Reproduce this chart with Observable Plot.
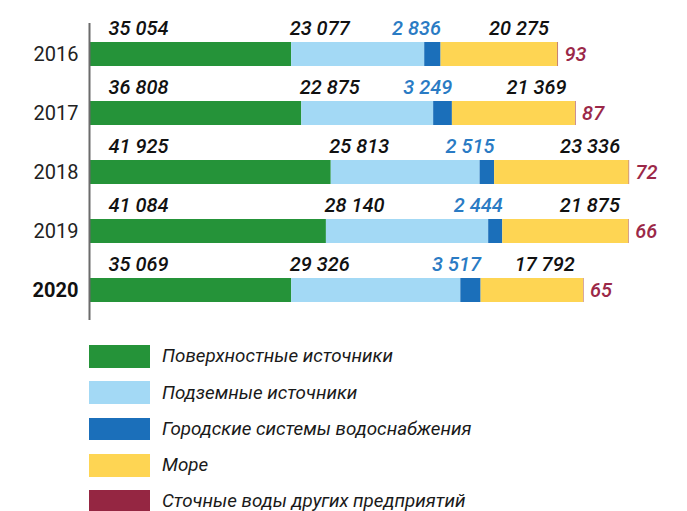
<!DOCTYPE html>
<html><head><meta charset="utf-8">
<script src="https://cdn.jsdelivr.net/npm/d3@7"></script>
<script src="https://cdn.jsdelivr.net/npm/@observablehq/plot@0.6"></script>
<style>
body{margin:0;background:#fff;font-family:Roboto,sans-serif;}
#legend{margin:15px 0 0 89px;}
.row{display:flex;align-items:center;height:22.7px;margin-bottom:13.6px;}
.sw{width:61px;height:22.7px;margin-right:12px;flex:none;}
.lb{font-style:italic;font-size:18.8px;color:#1a1a1a;}
</style></head>
<body><div id="chart"></div><div id="legend"></div>
<script>
const years = ["2016","2017","2018","2019","2020"];
const seriesNames = ["Поверхностные источники","Подземные источники","Городские системы водоснабжения","Море","Сточные воды других предприятий"];
const surface = [35054, 36808, 41925, 41084, 35069];
const ground  = [23077, 22875, 25813, 28140, 29326];
const city    = [2836, 3249, 2515, 2444, 3517];
const sea     = [20275, 21369, 23336, 21875, 17792];
const waste   = [93, 87, 72, 66, 65];
const colors  = ["#259339","#a3d9f5","#1b6fba","#fed553","#952642"];

const seriesValues = [surface, ground, city, sea, waste];
const data = [];
years.forEach((y, i) => {
  let acc = 0;
  seriesNames.forEach((s, k) => {
    const v = seriesValues[k][i];
    data.push({year: y, series: s, k, i, value: v, start: acc, end: acc + v});
    acc += v;
  });
});
const fmt = v => d3.format(",")(v).replace(/,/g, " ");

const numFont = {fontSize: 20, fontStyle: "italic", fontWeight: 500, fontFamily: "Roboto"};
const num = {...numFont, lineAnchor: "middle", dy: -25.5, y: "year", text: d => fmt(d.value)};

const chart = Plot.plot({
  width: 687, height: 330,
  marginLeft: 89, marginRight: 30, marginTop: 23, marginBottom: 10,
  x: {domain: [0, 98500], axis: null},
  y: {domain: years, axis: null, paddingInner: 0.597, paddingOuter: 0.2985},
  color: {domain: seriesNames, range: colors},
  marks: [
    Plot.barX(data, {x1: "start", x2: "end", y: "year", fill: "series"}),
    Plot.ruleX(data.filter(d => d.k === 4 && d.i < 4), {x: "end", y: "year", stroke: "#d6001c", strokeWidth: 1.5}),
    Plot.ruleX([0], {stroke: "#6b6b6b", strokeWidth: 2}),
    Plot.text(data.filter(d => d.k === 0), {...num, x: "start", textAnchor: "start", dx: 19, fill: "#111"}),
    Plot.text(data.filter(d => d.k === 1), {...num, x: "start", textAnchor: "start", dx: -2, fill: "#111"}),
    Plot.text(data.filter(d => d.k === 2), {...num, x: "end", textAnchor: "end", dx: 0, fill: "#2a7bc4"}),
    Plot.text(data.filter(d => d.k === 3), {...num, x: "end", textAnchor: "end", dx: -9, fill: "#111"}),
    Plot.text(data.filter(d => d.k === 4), {...numFont, x: "end", y: "year", text: d => fmt(d.value), textAnchor: "start", dx: 6, fill: "#9b2848"}),
    Plot.text(years.filter(y => y !== "2020"), {x: 0, y: d => d, text: d => d, textAnchor: "end", dx: -11, fontSize: 20, fontFamily: "Roboto", fill: "#222"}),
    Plot.text(years.filter(y => y === "2020"), {x: 0, y: d => d, text: d => d, textAnchor: "end", dx: -11, fontSize: 20, fontWeight: "bold", fontFamily: "Roboto", fill: "#111"})
  ]
});
document.getElementById("chart").appendChild(chart);

const legend = document.getElementById("legend");
seriesNames.forEach((s, k) => {
  const row = document.createElement("div"); row.className = "row";
  const sw = document.createElement("div"); sw.className = "sw"; sw.style.background = colors[k];
  const lb = document.createElement("div"); lb.className = "lb"; lb.textContent = s;
  row.appendChild(sw); row.appendChild(lb); legend.appendChild(row);
});
</script></body></html>
